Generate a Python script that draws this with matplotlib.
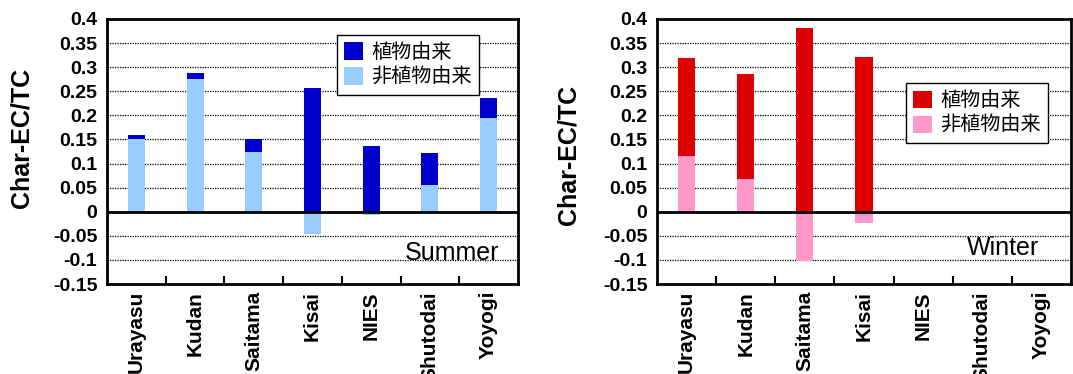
#!/usr/bin/env python3

import matplotlib
matplotlib.use("Agg")
import matplotlib.pyplot as plt
import numpy as np

plt.rcParams['font.family'] = ['Liberation Sans', 'DejaVu Sans']

sites = ['Urayasu', 'Kudan', 'Saitama', 'Kisai', 'NIES', 'Shutodai', 'Yoyogi']
legend_labels = ['植物由来', '非植物由来']

# summer: plant-derived (dark) stacked on non-plant (light)
summer_plant = [0.009, 0.012, 0.027, 0.257, 0.137, 0.066, 0.041]
summer_nonplant = [0.151, 0.276, 0.124, -0.046, -0.006, 0.056, 0.195]

# winter: only four sites measured
winter_plant = [0.203, 0.218, 0.381, 0.321, np.nan, np.nan, np.nan]
winter_nonplant = [0.116, 0.068, -0.103, -0.024, np.nan, np.nan, np.nan]

yticks = np.round(np.arange(-0.15, 0.401, 0.05), 2)


def draw_panel(ax, plant, nonplant, c_dark, c_light, season, leg_anchor, txt_pos, ylab_xy):
    x = np.arange(len(sites))
    plant = np.array(plant, dtype=float)
    nonplant = np.array(nonplant, dtype=float)
    base = np.where(nonplant > 0, nonplant, 0)
    ax.bar(x, nonplant, width=0.29, color=c_light, zorder=2, label=legend_labels[1])
    ax.bar(x, plant, width=0.29, bottom=base, color=c_dark, zorder=2, label=legend_labels[0])

    ax.set_xlim(-0.5, len(sites) - 0.5)
    ax.set_ylim(-0.15, 0.4)
    ax.set_yticks(yticks)
    ax.set_yticklabels(['0' if v == 0 else f'{v:g}' for v in yticks],
                       fontsize=14, fontweight='bold')
    ax.tick_params(axis='y', length=0, pad=7)
    for v in yticks:
        if v in (0.4, -0.15, 0):
            continue
        ax.axhline(v, color='black', linestyle=(0, (1, 1)), linewidth=0.9, zorder=1)
    ax.axhline(0, color='black', linewidth=2, zorder=3)

    # boundaries as major ticks, names on minor ticks
    ax.set_xticks(np.arange(0.5, len(sites) - 0.5, 1))
    ax.set_xticklabels([])
    ax.tick_params(axis='x', which='major', direction='in', length=6, width=1.5)
    ax.set_xticks(x, minor=True)
    ax.set_xticklabels(sites, minor=True, rotation=90, fontsize=15, fontweight='bold')
    ax.tick_params(axis='x', which='minor', length=0, pad=5)

    for s in ax.spines.values():
        s.set_linewidth(2)

    ax.set_ylabel('Char-EC/TC', fontsize=18, fontweight='bold')
    ax.yaxis.set_label_coords(*ylab_xy)

    h, l = ax.get_legend_handles_labels()
    leg = ax.legend(h[::-1], l[::-1], loc='upper right', bbox_to_anchor=leg_anchor,
                    borderaxespad=0, fancybox=False, framealpha=1, edgecolor='black',
                    prop={'family': ['Noto Sans CJK JP', 'DejaVu Sans'], 'size': 14.5},
                    handlelength=0.95, handleheight=0.95, handletextpad=0.4,
                    labelspacing=0.2, borderpad=0.35)
    leg.get_frame().set_linewidth(1)
    leg.set_zorder(5)

    ax.text(txt_pos[0], txt_pos[1], season, transform=ax.transAxes, ha='right',
            va='baseline', fontsize=18, zorder=4)


fig = plt.figure(figsize=(10.73, 3.74), dpi=100)
ax1 = fig.add_axes([0.0997, 0.2406, 0.383, 0.7086])
ax2 = fig.add_axes([0.6123, 0.2406, 0.3858, 0.7086])

draw_panel(ax1, summer_plant, summer_nonplant, '#0000CC', '#99CCFF', 'Summer',
           (0.905, 0.94), (0.954, 0.09), (-0.18, 0.55))
draw_panel(ax2, winter_plant, winter_nonplant, '#DD0000', '#FF99CC', 'Winter',
           (0.944, 0.758), (0.923, 0.109), (-0.186, 0.487))

fig.savefig('out.png', dpi=100)
